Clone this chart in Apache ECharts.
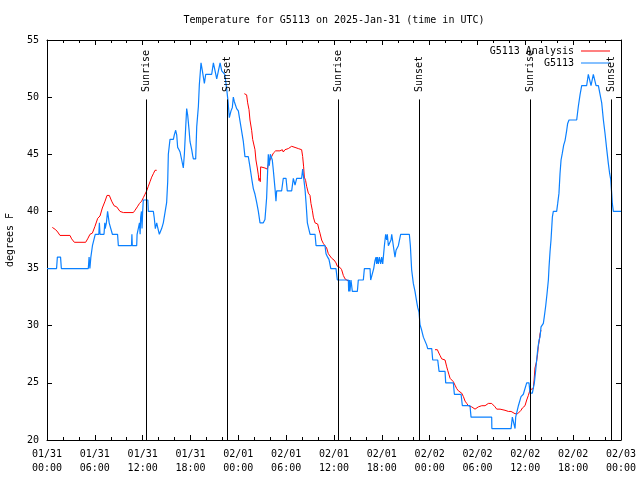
<!DOCTYPE html>
<html>
<head>
<meta charset="utf-8">
<script src="https://cdn.jsdelivr.net/npm/echarts@6/dist/echarts.min.js"></script>
<style>html,body{margin:0;padding:0;background:#fff}#c{width:640px;height:480px}</style>
</head>
<body>
<div id="c"></div>
<script>
// ---- data (hours since 2025-01-31 00:00 UTC, degrees F) ----
const titleText = 'Temperature for G5113 on 2025-Jan-31 (time in UTC)';
const yAxisName = 'degrees F';
const seriesNames = ['G5113 Analysis', 'G5113'];
const xTickLabels = ['01/31\n00:00','01/31\n06:00','01/31\n12:00','01/31\n18:00',
  '02/01\n00:00','02/01\n06:00','02/01\n12:00','02/01\n18:00',
  '02/02\n00:00','02/02\n06:00','02/02\n12:00','02/02\n18:00','02/03\n00:00'];
const sunriseHours = [12.45, 36.55, 60.62];
const sunsetHours = [22.62, 46.7, 70.79];
const markerBottom = 20, markerTop = 49.8, markerLabelAt = 50.45;

const analysisSeg1 = [[0.67,38.6],[0.92,38.6],[1.09,38.4],[1.34,38.2],[1.63,37.9],[2.88,37.9],[3.09,37.6],[3.43,37.3],[4.85,37.3],[5.1,37.6],[5.39,38],[5.69,38.1],[6.02,38.7],[6.36,39.4],[6.65,39.6],[6.94,40.3],[7.28,40.9],[7.53,41.4],[7.82,41.4],[8.11,40.9],[8.41,40.5],[8.74,40.4],[9.16,40],[9.58,39.9],[10.83,39.9],[11.04,40.1],[11.33,40.4],[11.6,40.7],[11.87,40.9],[12.08,41.2],[12.29,41.5],[12.5,41.8],[12.71,42.2],[12.92,42.6],[13.13,43.0],[13.34,43.3],[13.55,43.6],[13.76,43.6]];
const analysisSeg2 = [[24.75,50.3],[25.04,50.2],[25.17,49.5],[25.34,48.9],[25.46,48],[25.67,47.1],[25.8,46.3],[26.0,46.3],[26.09,45.4],[26.21,44.5],[26.38,43.8],[26.51,43.2],[26.59,42.7],[26.7,42.9],[26.75,42.6],[26.8,43.9],[26.92,43.9],[27.34,43.8],[27.64,43.7],[27.76,44.1],[27.97,44.5],[28.18,44.8],[28.39,45.1],[28.68,45.3],[29.22,45.3],[29.52,45.4],[29.64,45.2],[29.85,45.4],[30.27,45.5],[30.69,45.7],[31.11,45.6],[31.52,45.5],[31.94,45.4],[32.07,44.8],[32.19,43.9],[32.28,43],[32.44,42.7],[32.57,42.2],[32.78,41.6],[32.99,41.4],[33.11,40.7],[33.28,40.1],[33.41,39.5],[33.62,39],[33.95,38.9],[34.12,38.4],[34.24,38.1],[34.45,37.5],[34.66,37.2],[34.87,37.1],[35.08,36.8],[35.29,36.3],[35.5,36.1],[35.71,35.9],[36.0,35.75],[36.25,35.5],[36.42,35.2],[36.75,35.1],[36.96,34.9],[37.17,34.4],[37.38,34.1],[37.59,34.0],[37.8,33.9]];
const analysisSeg3 = [[48.67,27.9],[48.97,27.9],[49.09,27.7],[49.3,27.4],[49.51,27.1],[49.72,27.1],[49.93,27],[50.14,26.4],[50.26,26.1],[50.43,25.7],[50.56,25.4],[50.76,25.3],[50.97,25.1],[51.18,24.8],[51.39,24.5],[51.6,24.3],[51.81,24.2],[52.02,24.1],[52.23,23.8],[52.44,23.4],[52.65,23.2],[52.85,23],[53.27,22.9],[53.48,22.8],[53.69,22.7],[53.9,22.8],[54.11,22.9],[54.32,22.9],[54.53,23],[54.95,23],[55.36,23.2],[55.78,23.2],[55.99,23.1],[56.2,22.9],[56.41,22.7],[56.83,22.7],[57.04,22.6],[57.45,22.6],[57.87,22.5],[58.21,22.5],[58.37,22.4],[58.71,22.3],[59.04,22.3],[59.21,22.4],[59.46,22.6],[59.63,22.8],[59.8,22.9],[59.96,23],[60.17,23.5],[60.38,23.9],[60.59,24.4],[60.71,24.5],[61.0,24.5],[61.1,25.25],[61.21,26.3],[61.42,26.9],[61.55,27.6],[61.63,28.2],[61.76,28.75],[61.84,29.3],[61.97,29.6],[62.05,29.6]];

const observed = [[0,35],[1.2,35],[1.3,36],[1.7,36],[1.8,35],[5.18,35],[5.28,36],[5.38,35],[5.5,36],[5.7,37],[5.95,37],[6.05,38],[6.5,38],[6.57,39],[6.65,38],[7.15,38],[7.25,39],[7.3,38.5],[7.45,39],[7.6,40],[7.7,40],[7.8,39],[8.05,39],[8.2,38],[8.85,38],[8.95,37],[10.6,37],[10.65,38],[10.7,37],[11.25,37],[11.3,38],[11.5,38],[11.6,39],[11.68,38],[11.75,39.5],[11.85,40],[11.92,38.5],[12.0,40],[12.08,41],
[12.65,41],[12.71,40],[13.34,40],[13.46,39.4],[13.59,38.5],[13.76,39],[13.92,38.5],[14.09,38],[14.26,38],[14.38,38.5],[14.59,39],[14.8,39],[15.01,40.8],[15.14,42.6],[15.22,45],[15.43,46.3],[15.85,46.3],[15.97,46.7],[16.14,47.1],[16.27,46.7],[16.39,45.6],[16.56,45.4],[16.69,45.2],[16.9,44.5],[17.1,43.8],[17.23,45],[17.4,47.4],[17.52,49],[17.65,48.4],[17.81,47.2],[17.94,46.1],[18.15,45.4],[18.27,44.9],[18.36,44.6],[18.65,44.6],[18.78,47.4],[18.99,49.2],[19.11,51.1],[19.32,53],[19.49,52.3],[19.74,51.2],[19.91,52],[20.66,52],[20.87,53],[21.08,52.3],[21.29,51.6],[21.5,52.3],
[21.71,53],[21.92,52.3],[22.3,52],[22.54,50.7],[22.7,49.7],[22.87,48.2],[23.08,48.8],[23.25,49.1],[23.37,50],[23.5,49.6],[23.79,49],[24.0,48.8],[24.21,47.9],[24.42,47],[24.63,46.1],[24.83,44.8],[25.25,44.8],[25.46,43.9],[25.67,42.9],[25.88,42],[26.09,41.5],[26.3,40.8],[26.51,40],[26.72,39],[27.13,39],[27.34,39.3],[27.55,41.2],[27.68,43.6],[27.76,45],[27.89,44],[28.01,45],[28.14,45],[28.26,44.5],[28.39,43.6],[28.6,42],[28.72,40.9],[28.81,41.8],[29.43,41.8],[29.64,42.9],[29.98,42.9],[30.14,41.8],[30.69,41.8],[30.9,42.9],[31.11,42.3],[31.32,42.9],[31.94,42.9],[32.07,43.7],[32.2,42.9],[32.37,41.9],[32.5,40.7],[32.66,39],[32.87,39],[33.0,38],[33.62,38],[33.75,37],[34.87,37],[35.0,36.3],[35.2,36],[35.37,35.8],[35.6,35],
[36.25,35],[36.42,34],[37.8,34],[37.84,33],[37.93,34],[38.0,33],[38.13,34],[38.3,33],[38.93,33],[39.05,34],[39.68,34],[39.81,35],[40.52,35],[40.6,34],[40.85,34],[40.98,35],[41.14,35.7],[41.27,36],[41.35,35.4],[41.44,36],[41.56,35.4],[41.69,36],[41.85,35.4],[41.98,36],[42.11,35.4],[42.19,36],[42.32,37],[42.48,38],[42.61,37.5],[42.69,38],[42.82,37],[43.03,37],[43.15,37.5],[43.24,38],[43.44,37],[43.65,36],[43.78,36.6],[44.07,37],[44.28,37],[44.36,38],[45.45,38],[45.58,37],[45.74,34.9],[45.95,33.7],[46.16,33],[46.37,32.1],[46.5,31.6],[46.66,31.2],[46.79,30.1],[47.0,29.6],[47.21,29],[47.42,29],
[47.63,28.3],[47.75,28],[48.26,28],[48.38,27],[49.01,27],[49.18,26],[49.93,26],[50.01,25],[50.97,25],[51.1,24],[51.94,24],[52.1,23],[53.06,23],[53.19,22],[55.78,22],[55.8,21],[58.21,21],[58.37,22],[58.62,22],[58.71,21],[58.79,22],[59.0,22],[59.13,23],[59.46,23.8],[59.75,24],
[59.96,24.1],[60.17,25],[60.46,25],[60.59,24.1],[60.88,24.1],[61.13,25],[61.3,26.1],[61.42,27],[61.55,27.9],[61.72,28.75],[61.84,29],[61.97,29.9],[62.13,29.9],[62.26,30.2],[62.38,30.8],[62.55,31.7],[62.72,32.8],[62.89,34],[62.97,35.1],[63.1,36.5],[63.22,37.5],[63.39,39.5],[63.51,40],[63.93,40],[64.06,40.7],[64.22,41.6],[64.35,43.3],[64.48,44.5],[64.64,45.1],[64.81,45.8],[64.98,46.2],[65.19,47.1],[65.31,47.7],[65.48,48],[66.44,48],[66.65,49.2],[66.86,50.2],[67.07,51],[67.69,51],[67.9,52],[68.11,52],[68.24,51],[68.41,51],[68.53,52],[68.74,52],[68.87,51],[69.16,51],[69.37,50.9],[69.58,49.5],[69.79,48],[70.0,46.8],[70.2,45.5],[70.41,44.2],[70.58,43.3],[70.71,42.8],[70.83,41.6],[70.91,40.7],[71.04,40],[72,40]];

// ---- build ----
const FONT = 'DejaVu Sans Mono';
const analysis = analysisSeg1.concat([[13.9, null]], analysisSeg2, [[37.9, null]], analysisSeg3);
const markerLines = [];
const markerLabels = [];
sunriseHours.forEach(h => { markerLines.push([{coord:[h, markerBottom]},{coord:[h, markerTop]}]); markerLabels.push({value:[h, markerLabelAt], name:'Sunrise'}); });
sunsetHours.forEach(h => { markerLines.push([{coord:[h, markerBottom]},{coord:[h, markerTop]}]); markerLabels.push({value:[h, markerLabelAt], name:'Sunset'}); });

const axisCommon = {
  type: 'value', min: 0, max: 72, interval: 6,
  axisLine: {show: true, onZero: false, lineStyle: {color: '#000', width: 1}},
  axisTick: {show: true, inside: true, length: 5, lineStyle: {color: '#000'}},
  minorTick: {show: true, splitNumber: 3, length: 3, lineStyle: {color: '#000'}},
  splitLine: {show: false}
};
const yCommon = {
  type: 'value', min: 20, max: 55, interval: 5,
  axisLine: {show: true, onZero: false, lineStyle: {color: '#000', width: 1}},
  axisTick: {show: true, inside: true, length: 5, lineStyle: {color: '#000'}},
  splitLine: {show: false}
};

const chart = echarts.init(document.getElementById('c'), null, {renderer: 'canvas'});
chart.setOption({
  backgroundColor: '#fff',
  animation: false,
  textStyle: {fontFamily: FONT},
  title: {text: titleText, left: 329, textAlign: 'center', top: 10,
    textStyle: {fontFamily: FONT, fontSize: 10, fontWeight: 'normal', color: '#000'}},
  legend: [
    {data: [seriesNames[0]], right: 30, top: 46, align: 'right', itemWidth: 29, itemHeight: 1, icon: 'rect',
      itemGap: 0, padding: 0, textStyle: {fontFamily: FONT, fontSize: 10, color: '#000', padding: [0, 2, 0, 0]}},
    {data: [seriesNames[1]], right: 30, top: 58, align: 'right', itemWidth: 29, itemHeight: 1, icon: 'rect',
      itemGap: 0, padding: 0, textStyle: {fontFamily: FONT, fontSize: 10, color: '#000', padding: [0, 2, 0, 0]}}
  ],
  grid: {left: 47, right: 19, top: 40, bottom: 40, containLabel: false, outerBoundsMode: 'none'},
  xAxis: [
    Object.assign({}, axisCommon, {position: 'bottom',
      axisLabel: {show: true, margin: 7, fontFamily: FONT, fontSize: 10, color: '#000', lineHeight: 14,
        formatter: v => xTickLabels[Math.round(v / 6)] || ''}}),
    Object.assign({}, axisCommon, {position: 'top', axisLabel: {show: false}})
  ],
  yAxis: [
    Object.assign({}, yCommon, {position: 'left', name: yAxisName, nameLocation: 'middle', nameGap: 32, nameRotate: 90,
      nameTextStyle: {fontFamily: FONT, fontSize: 10, color: '#000'},
      axisLabel: {show: true, margin: 8, fontFamily: FONT, fontSize: 10, color: '#000'}}),
    Object.assign({}, yCommon, {position: 'right', axisLabel: {show: false}})
  ],
  series: [
    {name: seriesNames[0], type: 'line', data: analysis, showSymbol: false, symbol: 'none', connectNulls: false,
      lineStyle: {color: '#ff0000', width: 1}, itemStyle: {color: '#ff0000'}, z: 3},
    {name: seriesNames[1], type: 'line', data: observed, showSymbol: false, symbol: 'none',
      lineStyle: {color: '#0a80ff', width: 1.2}, itemStyle: {color: '#0a80ff'}, z: 4},
    {name: 'markers', type: 'scatter', data: markerLabels, symbolSize: 1, itemStyle: {color: 'rgba(0,0,0,0)'}, silent: true, z: 5,
      label: {show: true, position: 'inside', rotate: 90, align: 'left', verticalAlign: 'middle',
        formatter: p => p.name, fontFamily: FONT, fontSize: 10, color: '#000', opacity: 1,
        textBorderWidth: 0, textBorderColor: 'transparent'},
      markLine: {silent: true, symbol: 'none', animation: false, data: markerLines,
        lineStyle: {color: '#000', type: 'solid', width: 1}, label: {show: false}}}
  ]
});
</script>
</body>
</html>
